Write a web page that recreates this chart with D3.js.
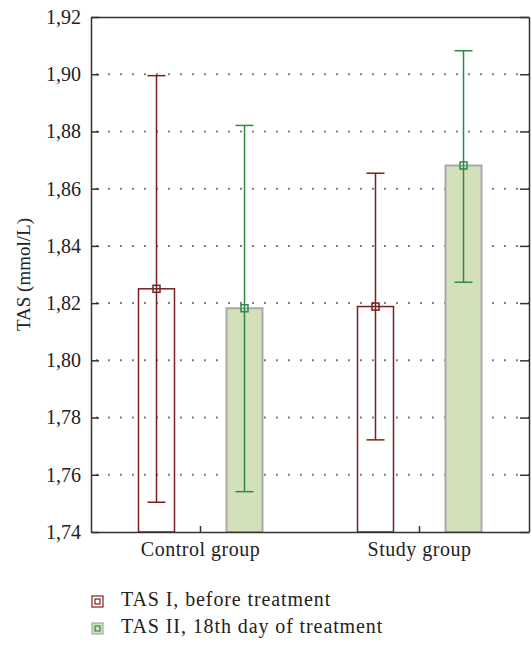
<!DOCTYPE html>
<html>
<head>
<meta charset="utf-8">
<script src="https://cdn.jsdelivr.net/npm/d3@7"></script>
<style>
  body { margin: 0; background: #fff; }
  svg text { font-family: "Liberation Serif", "DejaVu Serif", serif; fill: #222; }
</style>
</head>
<body>
<svg class="chart"></svg>
<script>
// data
const categories = ["Control group", "Study group"];
const seriesNames = ["TAS I, before treatment", "TAS II, 18th day of treatment"];
const meanI = [1.825, 1.8188];
const lowI = [1.7504, 1.7722];
const highI = [1.8995, 1.8654];
const meanII = [1.8182, 1.8681];
const lowII = [1.7541, 1.8273];
const highII = [1.8821, 1.9082];
const yTicks = [1.74, 1.76, 1.78, 1.80, 1.82, 1.84, 1.86, 1.88, 1.90, 1.92];

const width = 531;
const height = 646;
const margin = { top: 17, right: 2, bottom: 114, left: 91 };

const colors = {
  I: { line: "#7a1e1e", fill: "none", barStroke: "#7a1e1e" },
  II: { line: "#2f8a48", fill: "#d3e1bb", barStroke: "#a9a9a9" },
};

const rows = categories.map((c, i) => ({
  cat: c,
  groups: [
    { key: "I", mean: meanI[i], low: lowI[i], high: highI[i] },
    { key: "II", mean: meanII[i], low: lowII[i], high: highII[i] },
  ],
}));

const svg = d3.select(".chart").attr("width", width).attr("height", height);

const x0 = d3
  .scaleBand()
  .domain(categories)
  .range([margin.left, width - margin.right]);

const bw = x0.bandwidth();
const x1 = d3
  .scaleBand()
  .domain(["I", "II"])
  .range([bw / 2 - 62, bw / 2 + 62])
  .paddingInner(0.591);

const y = d3
  .scaleLinear()
  .domain([1.74, 1.92])
  .range([height - margin.bottom, margin.top]);

const fmt = d3.formatLocale({ decimal: ",", thousands: ".", grouping: [3], currency: ["", ""] }).format(".2f");

// dotted grid
svg
  .append("g")
  .selectAll("line")
  .data(yTicks.slice(1, -1))
  .join("line")
  .attr("x1", margin.left)
  .attr("x2", width - margin.right)
  .attr("y1", (d) => y(d))
  .attr("y2", (d) => y(d))
  .attr("stroke", "#808080")
  .attr("stroke-width", 2)
  .attr("stroke-dasharray", "2,10")
  .attr("stroke-dashoffset", 7);

// bars
const grp = svg
  .append("g")
  .selectAll("g")
  .data(rows)
  .join("g")
  .attr("transform", (d) => `translate(${x0(d.cat)},0)`);

grp
  .selectAll("rect")
  .data((d) => d.groups)
  .join("rect")
  .attr("x", (d) => x1(d.key))
  .attr("width", x1.bandwidth())
  .attr("y", (d) => y(d.mean))
  .attr("height", (d) => y(1.74) - y(d.mean))
  .attr("fill", (d) => colors[d.key].fill)
  .attr("stroke", (d) => colors[d.key].barStroke)
  .attr("stroke-width", (d) => (d.key === "I" ? 1.5 : 2));

// error bars
const eb = grp
  .selectAll(".err")
  .data((d) => d.groups)
  .join("g")
  .attr("class", "err")
  .attr("transform", (d) => `translate(${x1(d.key) + x1.bandwidth() / 2},0)`)
  .attr("stroke", (d) => colors[d.key].line)
  .attr("stroke-width", 1.5)
  .attr("fill", "none");

eb.append("line").attr("y1", (d) => y(d.high)).attr("y2", (d) => y(d.low));
eb.append("line").attr("x1", -9).attr("x2", 9).attr("y1", (d) => y(d.high)).attr("y2", (d) => y(d.high));
eb.append("line").attr("x1", -9).attr("x2", 9).attr("y1", (d) => y(d.low)).attr("y2", (d) => y(d.low));
eb.append("rect")
  .attr("x", -3.5)
  .attr("width", 7)
  .attr("y", (d) => y(d.mean) - 3.5)
  .attr("height", 7);

// axes / frame
const axisColor = "#333";

const leftAxis = svg
  .append("g")
  .attr("transform", `translate(${margin.left},0)`)
  .call(d3.axisLeft(y).tickValues(yTicks).tickFormat(fmt).tickSize(-8).tickSizeOuter(0).tickPadding(10));

const rightAxis = svg
  .append("g")
  .attr("transform", `translate(${width - margin.right},0)`)
  .call(d3.axisRight(y).tickValues(yTicks).tickFormat("").tickSize(-9).tickSizeOuter(0));

const bottomAxis = svg
  .append("g")
  .attr("transform", `translate(0,${height - margin.bottom})`)
  .call(d3.axisBottom(x0).tickSize(-6).tickSizeOuter(0).tickPadding(10));

const topAxis = svg
  .append("g")
  .attr("transform", `translate(0,${margin.top})`)
  .call(d3.axisTop(x0).tickValues([]).tickSizeOuter(0));

[leftAxis, rightAxis, bottomAxis, topAxis].forEach((a) => {
  a.select(".domain").attr("stroke", axisColor).attr("stroke-width", 1.5);
  a.selectAll(".tick line").attr("stroke", axisColor).attr("stroke-width", 1.5);
  a.selectAll("text").attr("font-size", "20px").attr("fill", "#222");
});
leftAxis.selectAll(".tick text").attr("font-family", "Liberation Serif, serif");
bottomAxis.selectAll(".tick text").attr("font-family", "Liberation Serif, serif").attr("letter-spacing", "0.5px");

svg
  .append("text")
  .attr("transform", `translate(30,${(margin.top + height - margin.bottom) / 2}) rotate(-90)`)
  .attr("text-anchor", "middle")
  .attr("font-size", "19px")
  .text("TAS (mmol/L)");

// legend
const legend = svg
  .append("g")
  .selectAll("g")
  .data(["I", "II"])
  .join("g")
  .attr("transform", (d, i) => `translate(92,${596 + i * 27})`);

legend
  .append("rect")
  .attr("width", 11)
  .attr("height", 11)
  .attr("fill", (d) => (d === "I" ? "#fff" : colors[d].fill))
  .attr("stroke", (d) => colors[d].barStroke)
  .attr("stroke-width", 1.2);

legend
  .append("rect")
  .attr("x", 3)
  .attr("y", 3)
  .attr("width", 5)
  .attr("height", 5)
  .attr("fill", "none")
  .attr("stroke", (d) => colors[d].line)
  .attr("stroke-width", 1.2);

legend
  .append("text")
  .attr("x", 29)
  .attr("y", 10)
  .attr("font-size", "20px")
  .attr("letter-spacing", "0.9px")
  .text((d, i) => seriesNames[i]);
</script>
</body>
</html>
